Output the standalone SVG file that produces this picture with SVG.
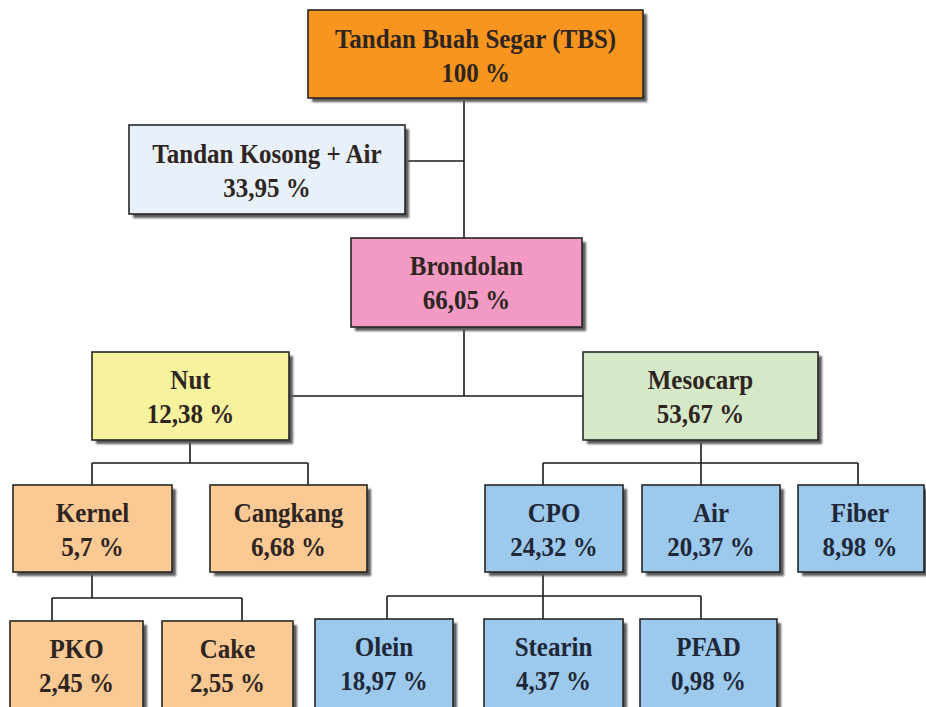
<svg xmlns="http://www.w3.org/2000/svg" width="926" height="707" viewBox="0 0 926 707">
<defs>
<filter id="sh" x="-10%" y="-10%" width="130%" height="130%">
<feGaussianBlur stdDeviation="1.2"/>
</filter>
<style>
.shadow{fill:#5a5a5a;filter:url(#sh)}
.box{stroke:#262626;stroke-width:1.6}
.t{font-family:"Liberation Serif","Times New Roman",serif;font-weight:bold;font-size:25px;text-anchor:middle;fill:#2e2520}
.tb{fill:#1e2838}
.conn line{stroke:#1a1a1a;stroke-width:1.6;fill:none}
.orange{fill:#F7951F}
.lblue{fill:#E8F1FA}
.pink{fill:#F39AC4}
.yellow{fill:#F6F29E}
.green{fill:#D5E8C8}
.peach{fill:#FBC994}
.blue{fill:#9DC9ED}
</style>
</defs>
<rect width="926" height="707" fill="#ffffff"/>

<g id="connectors" class="conn">
<line x1="464" y1="98" x2="464" y2="238"/>
<line x1="405" y1="161" x2="464" y2="161"/>
<line x1="464" y1="327" x2="464" y2="396"/>
<line x1="289" y1="396" x2="583" y2="396"/>
<line x1="190" y1="440" x2="190" y2="463"/>
<line x1="92" y1="463" x2="308" y2="463"/>
<line x1="92" y1="463" x2="92" y2="485"/>
<line x1="308" y1="463" x2="308" y2="485"/>
<line x1="92" y1="572" x2="92" y2="598"/>
<line x1="52" y1="598" x2="242" y2="598"/>
<line x1="52" y1="598" x2="52" y2="621"/>
<line x1="242" y1="598" x2="242" y2="621"/>
<line x1="701" y1="440" x2="701" y2="485"/>
<line x1="543" y1="463" x2="858" y2="463"/>
<line x1="543" y1="463" x2="543" y2="485"/>
<line x1="858" y1="463" x2="858" y2="485"/>
<line x1="543" y1="572" x2="543" y2="619"/>
<line x1="387" y1="596" x2="701" y2="596"/>
<line x1="387" y1="596" x2="387" y2="619"/>
<line x1="701" y1="596" x2="701" y2="619"/>
</g>

<g id="tbs">
<rect class="shadow" x="312" y="14" width="335" height="88"/>
<rect class="box orange" x="308" y="10" width="335" height="88"/>
<text class="t" transform="translate(475.5,48) scale(1,1.1)">Tandan Buah Segar (TBS)</text>
<text class="t" transform="translate(475.5,82) scale(1,1.1)">100 %</text>
</g>

<g id="tandan-kosong">
<rect class="shadow" x="133" y="129" width="276" height="89"/>
<rect class="box lblue" x="129" y="125" width="276" height="89"/>
<text class="t" transform="translate(267,163) scale(1,1.1)">Tandan Kosong + Air</text>
<text class="t" transform="translate(267,197) scale(1,1.1)">33,95 %</text>
</g>

<g id="brondolan">
<rect class="shadow" x="355" y="242" width="231" height="89"/>
<rect class="box pink" x="351" y="238" width="231" height="89"/>
<text class="t" transform="translate(466.5,275) scale(1,1.1)">Brondolan</text>
<text class="t" transform="translate(466.5,309) scale(1,1.1)">66,05 %</text>
</g>

<g id="nut">
<rect class="shadow" x="96" y="356" width="197" height="88"/>
<rect class="box yellow" x="92" y="352" width="197" height="88"/>
<text class="t" transform="translate(190.5,389) scale(1,1.1)">Nut</text>
<text class="t" transform="translate(190.5,423) scale(1,1.1)">12,38 %</text>
</g>

<g id="mesocarp">
<rect class="shadow" x="587" y="356" width="235" height="88"/>
<rect class="box green" x="583" y="352" width="235" height="88"/>
<text class="t" transform="translate(700.5,389) scale(1,1.1)">Mesocarp</text>
<text class="t" transform="translate(700.5,423) scale(1,1.1)">53,67 %</text>
</g>

<g id="kernel">
<rect class="shadow" x="17" y="489" width="159" height="87"/>
<rect class="box peach" x="13" y="485" width="159" height="87"/>
<text class="t" transform="translate(92.5,522) scale(1,1.1)">Kernel</text>
<text class="t" transform="translate(92.5,556) scale(1,1.1)">5,7 %</text>
</g>

<g id="cangkang">
<rect class="shadow" x="214" y="489" width="157" height="87"/>
<rect class="box peach" x="210" y="485" width="157" height="87"/>
<text class="t" transform="translate(288.5,522) scale(1,1.1)">Cangkang</text>
<text class="t" transform="translate(288.5,556) scale(1,1.1)">6,68 %</text>
</g>

<g id="cpo">
<rect class="shadow" x="489" y="489" width="138" height="87"/>
<rect class="box blue" x="485" y="485" width="138" height="87"/>
<text class="t tb" transform="translate(554,522) scale(1,1.1)">CPO</text>
<text class="t tb" transform="translate(554,556) scale(1,1.1)">24,32 %</text>
</g>

<g id="air">
<rect class="shadow" x="646" y="489" width="138" height="87"/>
<rect class="box blue" x="642" y="485" width="138" height="87"/>
<text class="t tb" transform="translate(711,522) scale(1,1.1)">Air</text>
<text class="t tb" transform="translate(711,556) scale(1,1.1)">20,37 %</text>
</g>

<g id="fiber">
<rect class="shadow" x="802" y="489" width="126" height="87"/>
<rect class="box blue" x="798" y="485" width="126" height="87"/>
<text class="t tb" transform="translate(860,522) scale(1,1.1)">Fiber</text>
<text class="t tb" transform="translate(860,556) scale(1,1.1)">8,98 %</text>
</g>

<g id="pko">
<rect class="shadow" x="14" y="625" width="133" height="90"/>
<rect class="box peach" x="10" y="621" width="133" height="90"/>
<text class="t" transform="translate(76.5,658) scale(1,1.1)">PKO</text>
<text class="t" transform="translate(76.5,692) scale(1,1.1)">2,45 %</text>
</g>

<g id="cake">
<rect class="shadow" x="166" y="625" width="131" height="90"/>
<rect class="box peach" x="162" y="621" width="131" height="90"/>
<text class="t" transform="translate(227.5,658) scale(1,1.1)">Cake</text>
<text class="t" transform="translate(227.5,692) scale(1,1.1)">2,55 %</text>
</g>

<g id="olein">
<rect class="shadow" x="319" y="623" width="138" height="90"/>
<rect class="box blue" x="315" y="619" width="138" height="90"/>
<text class="t tb" transform="translate(384,656) scale(1,1.1)">Olein</text>
<text class="t tb" transform="translate(384,690) scale(1,1.1)">18,97 %</text>
</g>

<g id="stearin">
<rect class="shadow" x="488" y="623" width="139" height="90"/>
<rect class="box blue" x="484" y="619" width="139" height="90"/>
<text class="t tb" transform="translate(553.5,656) scale(1,1.1)">Stearin</text>
<text class="t tb" transform="translate(553.5,690) scale(1,1.1)">4,37 %</text>
</g>

<g id="pfad">
<rect class="shadow" x="644" y="623" width="137" height="90"/>
<rect class="box blue" x="640" y="619" width="137" height="90"/>
<text class="t tb" transform="translate(708.5,656) scale(1,1.1)">PFAD</text>
<text class="t tb" transform="translate(708.5,690) scale(1,1.1)">0,98 %</text>
</g>
</svg>
